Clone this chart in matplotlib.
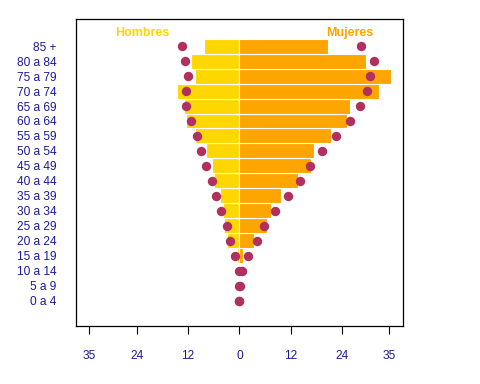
import matplotlib
matplotlib.use("Agg")
import matplotlib.pyplot as plt
import numpy as np

plt.rcParams['font.family'] = ['Liberation Sans', 'DejaVu Sans']

edades = ["0 a 4", "5 a 9", "10 a 14", "15 a 19", "20 a 24", "25 a 29", "30 a 34",
          "35 a 39", "40 a 44", "45 a 49", "50 a 54", "55 a 59", "60 a 64",
          "65 a 69", "70 a 74", "75 a 79", "80 a 84", "85 +"]
hombres = [0, 0, 0, 0.55, 2.9, 3.6, 3.8, 4.5, 5.9, 6.4, 7.8, 10.35, 12.45,
           12.9, 14.55, 10.35, 11.3, 8.25]
mujeres = [0, 0, 0.2, 0.85, 3.4, 6.5, 7.4, 9.7, 13.7, 16.7, 17.4, 21.4, 25.1,
           25.8, 32.6, 35.4, 29.6, 20.6]
hombres_ref = [0, 0.1, 0.15, 0.93, 2.1, 3.0, 4.2, 5.4, 6.3, 7.7, 8.9, 10.0, 11.4,
               12.45, 12.45, 12.1, 12.8, 13.3]
mujeres_ref = [0, 0.1, 0.6, 2.1, 4.0, 5.8, 8.4, 11.4, 14.2, 16.5, 19.4, 22.6, 25.9,
               28.25, 29.9, 30.6, 31.5, 28.5]
ticks = [-35, -24, -12, 0, 12, 24, 35]
tick_labels = ["35", "24", "12", "0", "12", "24", "35"]

fig = plt.figure(figsize=(4.8, 3.84), dpi=100)
ax = fig.add_axes([0.1583, 0.151, 0.6813, 0.7987])

y = np.arange(len(edades))
ax.barh(y, -np.array(hombres), height=1.0, color="#FFD700", edgecolor="white", linewidth=0.8)
ax.barh(y, mujeres, height=1.0, color="#FFA500", edgecolor="white", linewidth=0.8)
ax.scatter(-np.array(hombres_ref), y, s=46, color="#B03060", zorder=3, linewidths=0)
ax.scatter(mujeres_ref, y, s=46, color="#B03060", zorder=3, linewidths=0)

ax.set_xlim(-38.15, 38.2)
ax.set_ylim(-1.67, 18.78)

ax.text(-22.7, 17.9, "Hombres", color="#FFD700", fontsize=9, fontweight="bold",
        ha="center", va="center")
ax.text(25.7, 17.9, "Mujeres", color="#FFA500", fontsize=9, fontweight="bold",
        ha="center", va="center")

ax.set_xticks(ticks)
ax.set_xticklabels(tick_labels, color="#1a1a9a", fontsize=8.6)
ax.set_yticks(y)
ax.set_yticklabels(edades, color="#1a1a9a", fontsize=8.6)
ax.tick_params(axis="y", length=0, pad=14)
ax.tick_params(axis="x", length=6, width=0.8, pad=11, color="black")
for s in ax.spines.values():
    s.set_color("black")
    s.set_linewidth(0.9)

fig.savefig("out.png", dpi=100)
